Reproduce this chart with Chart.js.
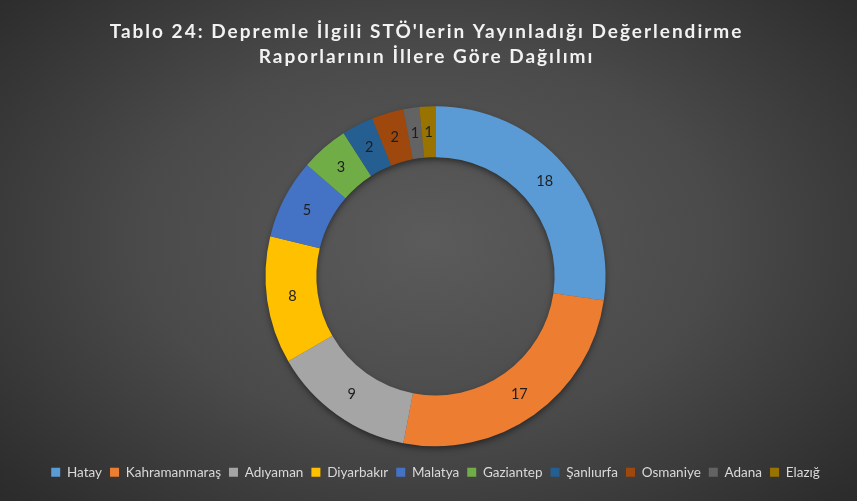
<!DOCTYPE html>
<html>
<head>
<meta charset="utf-8">
<script src="https://cdn.jsdelivr.net/npm/chart.js@4/dist/chart.umd.min.js"></script>
<style>
  html, body { margin: 0; padding: 0; }
  body { width: 857px; height: 501px; overflow: hidden;
    background: radial-gradient(ellipse 75% 85% at 50% 48%, #5b5b5b 0%, #4a4a4a 45%, #2e2e2e 85%, #262626 100%); }
  #wrap { width: 857px; height: 501px; position: relative; }
</style>
</head>
<body>
<div id="wrap"><canvas id="c"></canvas></div>
<script>
const titleLines = ["Tablo 24: Depremle İlgili STÖ'lerin Yayınladığı Değerlendirme", "Raporlarının İllere Göre Dağılımı"];
const categories = ["Hatay", "Kahramanmaraş", "Adıyaman", "Diyarbakır", "Malatya", "Gaziantep", "Şanlıurfa", "Osmaniye", "Adana", "Elazığ"];
const values = [18, 17, 9, 8, 5, 3, 2, 2, 1, 1];
const colors = ["#5B9BD5", "#ED7D31", "#A5A5A5", "#FFC000", "#4472C4", "#70AD47", "#255E91", "#9E480E", "#636363", "#997300"];

const FONT = "Lato, 'Open Sans', sans-serif";

const titlePlugin = {
  id: 'customTitle',
  afterDraw(chart) {
    const ctx = chart.ctx;
    ctx.save();
    ctx.font = "bold 19px " + FONT;
    ctx.fillStyle = "#f2f2f2";
    ctx.textAlign = "center";
    ctx.textBaseline = "middle";
    try { ctx.letterSpacing = "2px"; } catch (e) {}
    const cx = chart.width / 2 - 2;
    titleLines.forEach((t, i) => ctx.fillText(t, cx, 32 + i * 25));
    ctx.restore();
  }
};

const ringShadow = {
  id: 'ringShadow',
  beforeDatasetsDraw(chart) {
    const meta = chart.getDatasetMeta(0);
    const arc = meta.data[0];
    if (!arc) return;
    const { x, y, outerRadius, innerRadius } = arc.getProps(['x', 'y', 'outerRadius', 'innerRadius'], true);
    const ctx = chart.ctx;
    ctx.save();
    ctx.shadowColor = "rgba(0,0,0,0.55)";
    ctx.shadowBlur = 7;
    ctx.shadowOffsetY = 3;
    ctx.fillStyle = "#555";
    ctx.beginPath();
    ctx.arc(x, y, outerRadius - 1, 0, Math.PI * 2);
    ctx.arc(x, y, innerRadius + 1, 0, Math.PI * 2, true);
    ctx.fill();
    ctx.restore();
  }
};

const labelPlugin = {
  id: 'sliceLabels',
  afterDatasetsDraw(chart) {
    const ctx = chart.ctx;
    const meta = chart.getDatasetMeta(0);
    ctx.save();
    ctx.font = "14.5px " + FONT;
    ctx.fillStyle = "#1e1e1e";
    ctx.textAlign = "center";
    ctx.textBaseline = "middle";
    meta.data.forEach((arc, i) => {
      const p = arc.tooltipPosition(true);
      ctx.fillText(String(chart.data.datasets[0].data[i]), p.x, p.y);
    });
    ctx.restore();
  }
};

new Chart(document.getElementById('c'), {
  type: 'doughnut',
  data: {
    labels: categories,
    datasets: [{
      data: values,
      backgroundColor: colors,
      borderWidth: 0,
      hoverOffset: 0
    }]
  },
  options: {
    responsive: true,
    maintainAspectRatio: false,
    animation: false,
    radius: 170,
    cutout: 127,
    layout: { padding: { top: 95, left: 14, right: 0, bottom: 12 } },
    plugins: {
      title: { display: false },
      tooltip: { enabled: false },
      legend: {
        display: true,
        position: 'bottom',
        labels: {
          color: "#d9d9d9",
          font: { family: FONT, size: 13.5 },
          boxWidth: 9,
          boxHeight: 9,
          padding: 8
        }
      }
    }
  },
  plugins: [titlePlugin, ringShadow, labelPlugin]
});
</script>
</body>
</html>
